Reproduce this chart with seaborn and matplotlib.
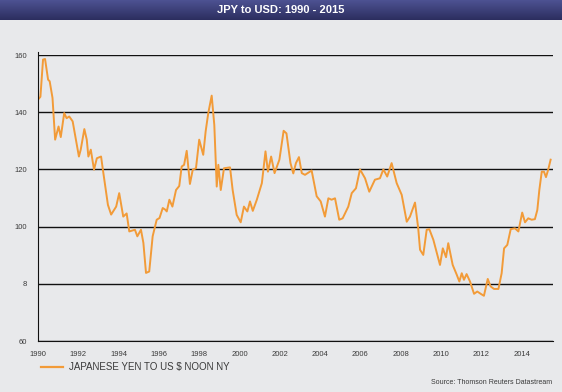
import numpy as np
import pandas as pd
import seaborn as sns
import matplotlib.pyplot as plt

# monthly-ish readings of JPY per USD
years = [1990.00, 1990.12, 1990.25, 1990.35, 1990.50, 1990.58, 1990.72, 1990.85,
         1991.02, 1991.13, 1991.30, 1991.42, 1991.55, 1991.72, 1991.88,
         1992.03, 1992.12, 1992.30, 1992.42, 1992.50, 1992.62, 1992.78, 1992.92,
         1993.13, 1993.22, 1993.47, 1993.63, 1993.88,
         1994.03, 1994.23, 1994.40, 1994.53, 1994.81, 1994.93,
         1995.11, 1995.23, 1995.36, 1995.52, 1995.69, 1995.89,
         1996.03, 1996.19, 1996.32, 1996.39, 1996.52, 1996.67, 1996.85,
         1997.01, 1997.13, 1997.25, 1997.38, 1997.54, 1997.68, 1997.84,
         1998.00, 1998.20, 1998.32, 1998.45, 1998.62, 1998.75, 1998.87, 1998.95,
         1999.07, 1999.23, 1999.53, 1999.66, 1999.86,
         2000.06, 2000.22, 2000.39, 2000.52, 2000.66, 2000.86,
         2001.11, 2001.29, 2001.41, 2001.57, 2001.74, 2001.98,
         2002.19, 2002.33, 2002.53, 2002.67, 2002.80, 2002.95,
         2003.09, 2003.25, 2003.58, 2003.83,
         2004.03, 2004.24, 2004.41, 2004.57, 2004.74, 2004.95,
         2005.12, 2005.40, 2005.57, 2005.78, 2005.98,
         2006.23, 2006.44, 2006.72, 2006.97,
         2007.14, 2007.33, 2007.55, 2007.80,
         2008.05, 2008.30, 2008.46, 2008.71, 2008.87, 2008.96,
         2009.12, 2009.29, 2009.42, 2009.62, 2009.82, 2009.95,
         2010.09, 2010.25, 2010.36, 2010.58, 2010.78, 2010.91,
         2011.03, 2011.14, 2011.27, 2011.44, 2011.64, 2011.80, 2011.97,
         2012.13, 2012.32, 2012.46, 2012.63, 2012.85,
         2013.01, 2013.13, 2013.29, 2013.46, 2013.67, 2013.84,
         2014.03, 2014.17, 2014.33, 2014.50, 2014.66, 2014.78, 2014.88,
         2015.00, 2015.11, 2015.21, 2015.32, 2015.44]
jpy = [144.4, 145.4, 158.4, 158.6, 151.4, 150.8, 145.0, 130.4,
       135.0, 131.3, 139.7, 137.9, 138.5, 136.8, 130.4,
       124.5, 126.9, 134.1, 130.4, 124.5, 126.9, 119.9, 123.9,
       124.5, 119.9, 107.6, 104.2, 107.0,
       111.7, 103.5, 104.6, 98.3, 98.9, 96.6,
       98.9, 94.3, 83.8, 84.3, 96.6, 102.4,
       103.0, 106.5, 105.9, 105.3, 109.4, 107.0, 112.8,
       114.2, 121.0, 121.6, 126.5, 114.9, 119.9, 120.4,
       130.4, 125.1, 133.3, 139.7, 145.8, 135.5, 114.0, 121.6,
       112.8, 120.4, 120.7, 112.8, 104.1,
       101.5, 107.0, 105.3, 108.8, 105.5, 109.4,
       115.2, 126.3, 119.2, 124.5, 118.7, 123.4,
       133.5, 132.6, 122.2, 118.6, 122.2, 124.3,
       118.7, 118.1, 119.6, 110.6,
       108.8, 103.5, 109.9, 109.4, 109.9, 102.4,
       102.9, 107.0, 111.7, 113.4, 120.0,
       116.9, 112.2, 116.4, 116.9,
       120.0, 117.5, 122.2, 115.2,
       111.1, 101.7, 103.5, 108.4, 99.4, 91.9,
       90.1, 98.9, 99.1, 95.4, 90.1, 86.6,
       92.4, 89.3, 94.2, 86.6, 83.2, 80.8,
       83.7, 81.4, 83.4, 80.8, 76.5, 77.3, 76.5,
       75.8, 81.7, 79.1, 78.2, 78.2,
       83.7, 92.4, 93.6, 99.1, 99.4, 98.3,
       104.9, 101.5, 102.9, 102.4, 102.6, 105.8, 112.8,
       119.2, 119.2, 117.3, 119.9, 123.4]

y_ticks = [60, 80, 100, 120, 140, 160]
y_labels = ["60", "8", "100", "120", "140", "160"]
x_ticks = list(range(1990, 2015, 2))

df = pd.DataFrame({"year": years, "jpy": jpy})

bg = "#e8e9eb"
orange = "#f29b38"
txt = "#3a3a3a"
narrow = ["Liberation Sans Narrow", "Liberation Sans", "DejaVu Sans"]

plt.rcParams["font.family"] = ["Liberation Sans", "DejaVu Sans"]

fig = plt.figure(figsize=(5.62, 3.92), dpi=100, facecolor=bg)

# title band, soft vertical gradient
band = fig.add_axes([0, 1 - 20 / 392, 1, 20 / 392])
grad = np.linspace(0, 1, 50).reshape(-1, 1)
cmap = plt.matplotlib.colors.LinearSegmentedColormap.from_list("band", ["#4d5292", "#2c2e5f"])
band.imshow(grad, aspect="auto", cmap=cmap, extent=[0, 1, 0, 1], origin="upper")
band.set_axis_off()
band.text(0.5, 0.5, "JPY to USD: 1990 - 2015", color="white", fontsize=8,
          fontweight="bold", ha="center", va="center", family=narrow)

ax = fig.add_axes([38 / 562, 1 - 341 / 392, (553 - 38) / 562, (341 - 55) / 392])
ax.set_facecolor(bg)
sns.lineplot(data=df, x="year", y="jpy", ax=ax, color=orange, linewidth=1.4,
             estimator=None, sort=True)

ax.set_xlim(1990, 1990 + (553 - 38) / 20.15)
ax.set_ylim(60, 160)
ax.set_yticks(y_ticks)
ax.set_yticklabels(y_labels)
ax.set_xticks(x_ticks)
ax.set_xticklabels([str(t) for t in x_ticks])
ax.tick_params(axis="both", length=0, labelsize=5.5, colors=txt)
ax.tick_params(axis="y", pad=8)
ax.tick_params(axis="x", pad=7)
for t in y_ticks:
    ax.axhline(t, color="#111111", linewidth=1.0, zorder=0)
ax.set_xlabel("")
ax.set_ylabel("")
for s in ["top", "right"]:
    ax.spines[s].set_visible(False)
ax.spines["left"].set_color("#111111")
ax.spines["bottom"].set_color("#111111")
ax.spines["left"].set_bounds(60, 161)
if ax.get_legend():
    ax.get_legend().remove()

# legend entry and source line
fig.add_artist(plt.Line2D([41 / 562, 63 / 562], [1 - 367 / 392] * 2, color=orange,
                          linewidth=1.6))
fig.text(69 / 562, 1 - 367 / 392, "JAPANESE YEN TO US \\$ NOON NY", fontsize=7,
         color=txt, va="center", ha="left")
fig.text(552 / 562, 1 - 383 / 392, "Source: Thomson Reuters Datastream", fontsize=5,
         color=txt, va="center", ha="right", family=narrow)

fig.savefig("out.png", dpi=100, facecolor=bg)
